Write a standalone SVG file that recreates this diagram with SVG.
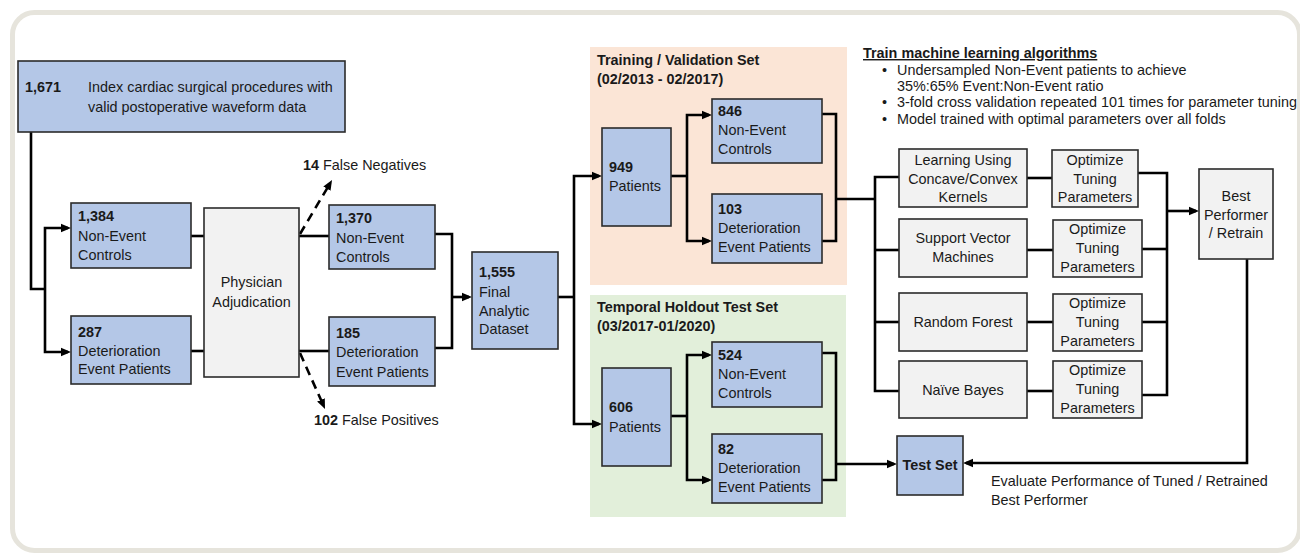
<svg xmlns="http://www.w3.org/2000/svg" width="1300" height="554" viewBox="0 0 1300 554">
<style>
text{font-family:"Liberation Sans",Arial,sans-serif;font-size:14.4px;fill:#1a1a1a}
.b{font-weight:bold}
.c{text-anchor:middle}
.blue{fill:#b4c7e7;stroke:#2b2b2b;stroke-width:1.6}
.gray{fill:#f2f2f2;stroke:#2b2b2b;stroke-width:1.6}
.ln{fill:none;stroke:#000;stroke-width:2.6;stroke-linejoin:miter}
.ar{marker-end:url(#ah)}
.dash{fill:none;stroke:#000;stroke-width:2.6;stroke-dasharray:13 8}
.dar{fill:none;stroke:#000;stroke-width:2.6;stroke-dasharray:9 6;marker-end:url(#ah)}
</style>
<defs>
<marker id="ah" viewBox="0 0 10 10" refX="7" refY="5" markerWidth="10" markerHeight="10" markerUnits="userSpaceOnUse" orient="auto">
<path d="M0,0.8 L10,5 L0,9.2 z" fill="#000"/>
</marker>
</defs>
<rect x="12.5" y="12.5" width="1287" height="538" rx="22" fill="#fff" stroke="#e6e4dc" stroke-width="5"/>

<rect id="bg-train" x="590" y="47" width="257" height="238" fill="#fbe5d6"/>
<rect id="bg-test" x="590" y="295" width="256" height="222" fill="#e2efda"/>
<g id="lbl-train"><text class="b" x="597" y="65">Training / Validation Set</text><text class="b" x="597" y="84">(02/2013 - 02/2017)</text></g>
<g id="lbl-test"><text class="b" x="597" y="312">Temporal Holdout Test Set</text><text class="b" x="597" y="331">(03/2017-01/2020)</text></g>

<g id="connectors">
<path class="ln" d="M31,132 V289 H45"/>
<path class="ln ar" d="M45,289 V228 H68"/>
<path class="ln ar" d="M45,289 V352 H68"/>
<path class="ln" d="M191,236 H204"/>
<path class="dash" d="M213,236 H291"/>
<path class="ln" d="M299,236 H329"/>
<path class="ln" d="M191,351 H204"/>
<path class="dash" d="M213,351 H291"/>
<path class="ln" d="M299,351 H329"/>
<path class="dar" d="M300,234 L330.5,182.6"/>
<path class="dar" d="M300,353 L323.8,406.3"/>
<path class="ln" d="M435,234 H452 V348 H435"/>
<path class="ln ar" d="M452,297 H469"/>
<path class="ln" d="M558,297 H574"/>
<path class="ln ar" d="M574,297 V176 H599"/>
<path class="ln ar" d="M574,297 V424 H599"/>
<path class="ln" d="M671,176 H687"/>
<path class="ln ar" d="M687,176 V115 H709"/>
<path class="ln ar" d="M687,176 V241 H709"/>
<path class="ln" d="M822,114 H836 V241 H822"/>
<path class="ln" d="M836,199 H875"/>
<path class="ln" d="M671,416 H687"/>
<path class="ln ar" d="M687,416 V355 H709"/>
<path class="ln ar" d="M687,416 V480 H709"/>
<path class="ln" d="M822,353 H836 V480 H822"/>
<path class="ln ar" d="M836,464 H894"/>
<path class="ln" d="M899,177 H875 V391 H899"/>
<path class="ln" d="M875,250 H899"/>
<path class="ln" d="M875,322 H899"/>
<path class="ln" d="M1027,178 H1052"/>
<path class="ln" d="M1027,250 H1053"/>
<path class="ln" d="M1027,322 H1053"/>
<path class="ln" d="M1027,391 H1053"/>
<path class="ln" d="M1138,173 H1167 V395 H1142"/>
<path class="ln" d="M1142,249 H1167"/>
<path class="ln" d="M1142,322 H1167"/>
<path class="ln ar" d="M1167,211 H1196"/>
<path class="ln ar" d="M1247,259 V463 H966"/>
</g>

<g id="n1671"><rect class="blue" x="18" y="61" width="327" height="71"/><text class="b" x="25" y="92">1,671</text><text x="88" y="92">Index cardiac surgical procedures with</text><text x="88" y="112">valid postoperative waveform data</text></g>
<g id="n1384"><rect class="blue" x="71" y="203" width="120" height="65"/><text class="b" x="78" y="221">1,384</text><text x="78" y="241">Non-Event</text><text x="78" y="260">Controls</text></g>
<g id="n287"><rect class="blue" x="71" y="316" width="120" height="68"/><text class="b" x="78" y="337">287</text><text x="78" y="356">Deterioration</text><text x="78" y="374">Event Patients</text></g>
<g id="phys"><rect class="gray" x="204" y="208" width="95" height="169"/><text class="c" x="251.5" y="287">Physician</text><text class="c" x="251.5" y="307">Adjudication</text></g>
<g id="fn"><text x="303" y="170"><tspan class="b">14</tspan> False Negatives</text></g>
<g id="fp"><text x="314" y="425"><tspan class="b">102</tspan> False Positives</text></g>
<g id="n1370"><rect class="blue" x="329" y="205" width="106" height="64"/><text class="b" x="336" y="223">1,370</text><text x="336" y="243">Non-Event</text><text x="336" y="262">Controls</text></g>
<g id="n185"><rect class="blue" x="329" y="317" width="106" height="69"/><text class="b" x="336" y="338">185</text><text x="336" y="357">Deterioration</text><text x="336" y="377">Event Patients</text></g>
<g id="n1555"><rect class="blue" x="472" y="252" width="86" height="97"/><text class="b" x="479" y="277">1,555</text><text x="479" y="297">Final</text><text x="479" y="316">Analytic</text><text x="479" y="334">Dataset</text></g>
<g id="n949"><rect class="blue" x="602" y="128" width="69" height="98"/><text class="b" x="609" y="172">949</text><text x="609" y="191">Patients</text></g>
<g id="n846"><rect class="blue" x="712" y="99" width="110" height="64"/><text class="b" x="718" y="116">846</text><text x="718" y="135">Non-Event</text><text x="718" y="154">Controls</text></g>
<g id="n103"><rect class="blue" x="712" y="194" width="110" height="69"/><text class="b" x="718" y="214">103</text><text x="718" y="233">Deterioration</text><text x="718" y="252">Event Patients</text></g>
<g id="n606"><rect class="blue" x="602" y="368" width="69" height="98"/><text class="b" x="609" y="412">606</text><text x="609" y="432">Patients</text></g>
<g id="n524"><rect class="blue" x="712" y="342" width="110" height="65"/><text class="b" x="718" y="360">524</text><text x="718" y="379">Non-Event</text><text x="718" y="398">Controls</text></g>
<g id="n82"><rect class="blue" x="712" y="434" width="110" height="69"/><text class="b" x="718" y="454">82</text><text x="718" y="473">Deterioration</text><text x="718" y="492">Event Patients</text></g>
<g id="testset"><rect class="blue" x="897" y="436" width="66" height="59"/><text class="b c" x="930" y="470">Test Set</text></g>
<g id="ml-notes">
<text class="b" x="863" y="58" text-decoration="underline">Train machine learning algorithms</text>
<text x="882" y="75">•</text><text x="897" y="75">Undersampled Non-Event patients to achieve</text>
<text x="897" y="91">35%:65% Event:Non-Event ratio</text>
<text x="882" y="107">•</text><text x="897" y="107">3-fold cross validation repeated 101 times for parameter tuning</text>
<text x="882" y="124">•</text><text x="897" y="124">Model trained with optimal parameters over all folds</text>
</g>
<g id="lucck"><rect class="gray" x="899" y="149" width="128" height="58"/><text class="c" x="963" y="165">Learning Using</text><text class="c" x="963" y="184">Concave/Convex</text><text class="c" x="963" y="202">Kernels</text></g>
<g id="opt1"><rect class="gray" x="1052" y="150" width="86" height="57"/><text class="c" x="1095" y="165">Optimize</text><text class="c" x="1095" y="184">Tuning</text><text class="c" x="1095" y="202">Parameters</text></g>
<g id="svm"><rect class="gray" x="899" y="219" width="128" height="58"/><text class="c" x="963" y="243">Support Vector</text><text class="c" x="963" y="262">Machines</text></g>
<g id="opt2"><rect class="gray" x="1053" y="220" width="89" height="57"/><text class="c" x="1097.5" y="234">Optimize</text><text class="c" x="1097.5" y="253">Tuning</text><text class="c" x="1097.5" y="272">Parameters</text></g>
<g id="rf"><rect class="gray" x="899" y="293" width="128" height="58"/><text class="c" x="963" y="327">Random Forest</text></g>
<g id="opt3"><rect class="gray" x="1053" y="294" width="89" height="57"/><text class="c" x="1097.5" y="308">Optimize</text><text class="c" x="1097.5" y="327">Tuning</text><text class="c" x="1097.5" y="346">Parameters</text></g>
<g id="nb"><rect class="gray" x="899" y="361" width="128" height="57"/><text class="c" x="963" y="395">Naïve Bayes</text></g>
<g id="opt4"><rect class="gray" x="1053" y="361" width="89" height="57"/><text class="c" x="1097.5" y="375">Optimize</text><text class="c" x="1097.5" y="394">Tuning</text><text class="c" x="1097.5" y="413">Parameters</text></g>
<g id="best"><rect class="gray" x="1199" y="169" width="74" height="90"/><text class="c" x="1236" y="201">Best</text><text class="c" x="1236" y="220">Performer</text><text class="c" x="1236" y="238">/ Retrain</text></g>
<g id="eval"><text x="991" y="486">Evaluate Performance of Tuned / Retrained</text><text x="991" y="505">Best Performer</text></g>
</svg>
